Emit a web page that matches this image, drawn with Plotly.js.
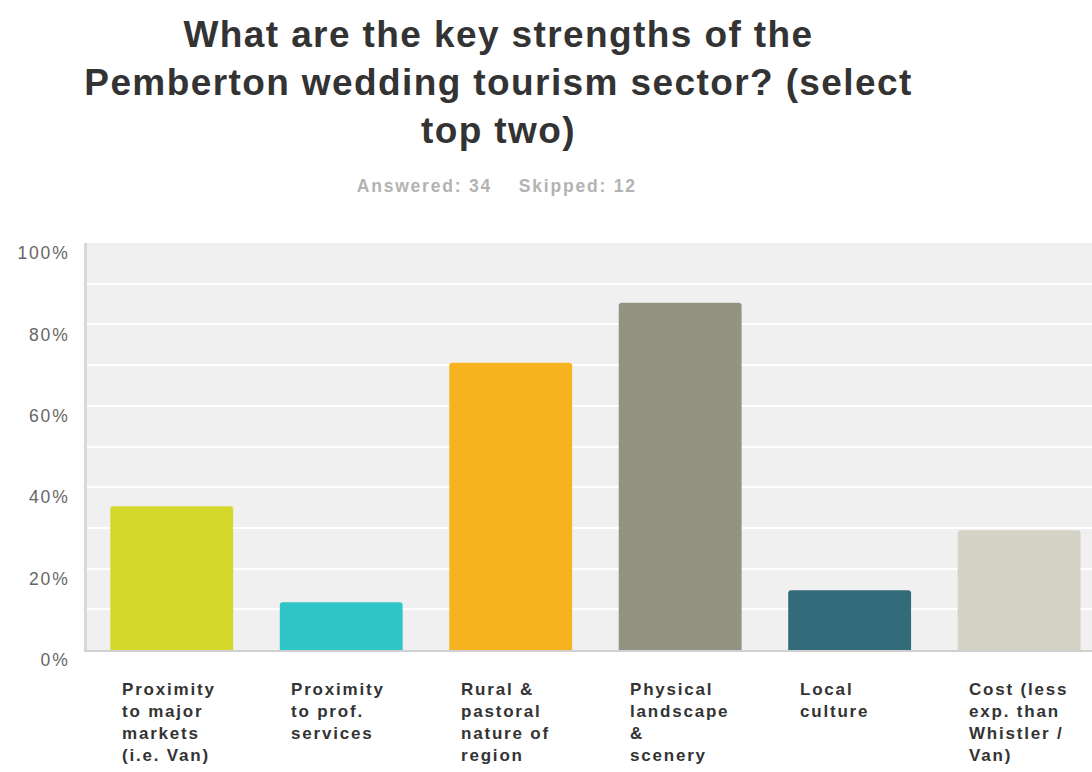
<!DOCTYPE html>
<html>
<head>
<meta charset="utf-8">
<script src="https://cdn.plot.ly/plotly-3.0.1.min.js"></script>
<style>
html,body{margin:0;padding:0;background:#fff;}
#chart{width:1092px;height:772px;}
#chart text{letter-spacing:1.8px;}
#chart .annotation[data-index="6"] text{letter-spacing:1.4px;}
</style>
</head>
<body>
<div id="chart"></div>
<script>
var categories = ["Proximity to major markets (i.e. Van)", "Proximity to prof. services", "Rural & pastoral nature of region", "Physical landscape & scenery", "Local culture", "Cost (less exp. than Whistler / Van)"];
var categoryLabels = ["Proximity<br>to major<br>markets<br>(i.e. Van)", "Proximity<br>to prof.<br>services", "Rural &<br>pastoral<br>nature of<br>region", "Physical<br>landscape<br>&<br>scenery", "Local<br>culture", "Cost (less<br>exp. than<br>Whistler /<br>Van)"];
var percentages = [35.29, 11.76, 70.59, 85.29, 14.71, 29.41];
var barColors = ["#d4d82b", "#30c5c6", "#f6b31f", "#949383", "#346b7a", "#d5d3c6"];
var tickValues = [0, 20, 40, 60, 80, 100];
var tickLabels = ["0%", "20%", "40%", "60%", "80%", "100%"];
var titleText = "What are the key strengths of the<br>Pemberton wedding tourism sector? (select<br>top two)";
var subtitleText = "Answered: 34&nbsp;&nbsp;&nbsp;&nbsp;Skipped: 12";

var W = 1092, H = 772, ML = 87, MR = 0, MT = 243, MB = 122;
var plotW = W - ML - MR, plotH = H - MT - MB;
function px(x) { return (x - ML) / plotW; }
function py(y) { return (H - MB - y) / plotH; }

var trace = {
  type: "bar",
  x: categories,
  y: percentages,
  marker: {color: barColors, line: {width: 0}},
  hoverinfo: "none"
};

var annotations = categories.map(function (c, i) {
  return {
    x: c, xref: "x", y: 0, yref: "paper",
    xanchor: "left", yanchor: "top", align: "left",
    xshift: -52, yshift: -28,
    text: "<b>" + categoryLabels[i] + "</b>", showarrow: false,
    font: {family: "Liberation Sans, Arial, sans-serif", size: 17, color: "#333333"}
  };
});
annotations.push({
  x: px(498), xref: "paper", y: py(82), yref: "paper",
  xanchor: "center", yanchor: "middle", align: "center",
  text: "<b>" + titleText + "</b>", showarrow: false,
  font: {family: "Liberation Sans, Arial, sans-serif", size: 37, color: "#333333"}
});
annotations.push({
  x: px(497), xref: "paper", y: py(186), yref: "paper",
  xanchor: "center", yanchor: "middle",
  text: "<b>" + subtitleText + "</b>", showarrow: false,
  font: {family: "Liberation Sans, Arial, sans-serif", size: 17.5, color: "#b3b3b3"}
});

var layout = {
  width: W, height: H,
  margin: {l: ML, r: MR, t: MT, b: MB, pad: 0},
  paper_bgcolor: "#ffffff",
  plot_bgcolor: "#f0f0f0",
  showlegend: false,
  bargap: 0.275,
  barcornerradius: 3,
  xaxis: {
    type: "category",
    range: [-0.5, 5.43],
    showticklabels: false,
    ticks: "",
    showgrid: false,
    showline: true, linecolor: "#d0d0d0", linewidth: 2,
    zeroline: false, fixedrange: true
  },
  yaxis: {
    range: [0, 100],
    tickvals: tickValues, ticktext: tickLabels,
    ticks: "", ticklabelshift: 10, ticklabelstandoff: 11,
    tickfont: {family: "Liberation Sans, Arial, sans-serif", size: 17.5, color: "#666666"},
    showgrid: true, gridcolor: "#ffffff", gridwidth: 2,
    minor: {dtick: 10, showgrid: true, gridcolor: "#ffffff", gridwidth: 2},
    showline: true, linecolor: "#d8d8d8", linewidth: 3,
    zeroline: false, fixedrange: true
  },
  annotations: annotations
};

Plotly.newPlot("chart", [trace], layout, {displayModeBar: false, staticPlot: true});
</script>
</body>
</html>
